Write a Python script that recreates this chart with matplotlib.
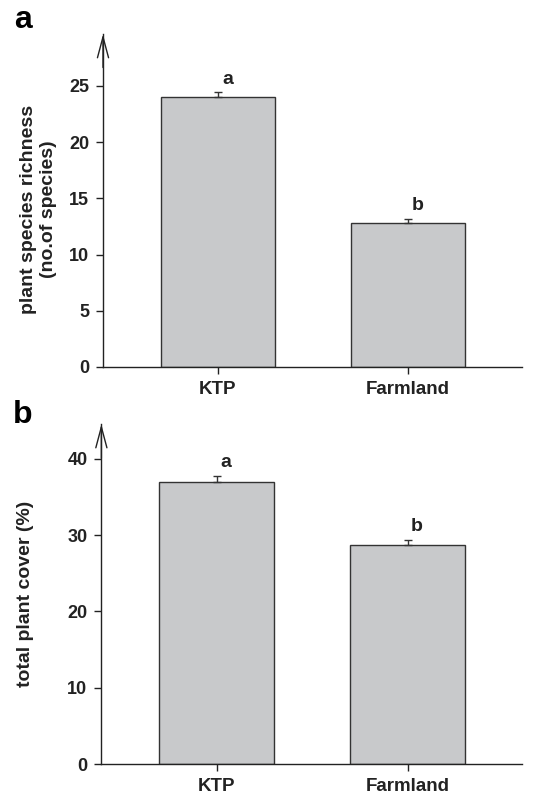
import matplotlib
matplotlib.use("Agg")
import matplotlib.pyplot as plt

plt.rcParams['font.family'] = ['Liberation Sans', 'DejaVu Sans']
plt.rcParams['font.weight'] = 'bold'

# data
sites = ["KTP", "Farmland"]
richness = [24.05, 12.8]
richness_se = [0.4, 0.4]
cover = [37.0, 28.65]
cover_se = [0.75, 0.7]
letters = ["a", "b"]

bar_color = "#c8c9cb"
edge_color = "#333333"
axis_color = "#222222"


def draw_panel(ax, values, errs, ylabel, yticks, ytop, text_gap, label_xy):
    x = [1, 2]
    ax.bar(x, values, width=0.6, color=bar_color, edgecolor=edge_color, linewidth=1.0, zorder=2)
    ax.errorbar(x, values, yerr=[[0, 0], errs], fmt="none", ecolor=edge_color,
                elinewidth=1.0, capsize=3.2, capthick=1.0, zorder=3)
    for xi, v, e, lab in zip(x, values, errs, letters):
        ax.text(xi + 0.05, v + e + text_gap, lab, ha="center", va="bottom",
                fontsize=14, fontweight="bold", color="#222222")

    ax.set_xlim(0.396, 2.6)
    ax.set_ylim(0, ytop)
    ax.set_xticks(x)
    ax.set_xticklabels(sites, fontsize=13.5, fontweight="bold", color="#222222")
    ax.set_yticks(yticks)
    ax.set_yticklabels([str(t) for t in yticks], fontsize=13, fontweight="bold", color="#222222")
    ax.tick_params(axis="both", direction="out", length=5, width=1.0, color=axis_color)
    ax.tick_params(axis="x", pad=5)
    ax.tick_params(axis="y", pad=5)

    for side in ["top", "right"]:
        ax.spines[side].set_visible(False)
    for side in ["left", "bottom"]:
        ax.spines[side].set_color(axis_color)
        ax.spines[side].set_linewidth(1.0)

    # open arrow head at the top of the y axis
    ax.annotate("", xy=(0, 1.0), xytext=(0, 0.9), xycoords="axes fraction",
                arrowprops=dict(arrowstyle="->,head_length=1.5,head_width=0.4",
                                color=axis_color, lw=1.0, shrinkA=0, shrinkB=0))
    ax.set_ylabel(ylabel, fontsize=14, fontweight="bold", color="#222222")
    ax.yaxis.set_label_coords(*label_xy)


fig = plt.figure(figsize=(5.45, 7.96), dpi=100)

ax1 = fig.add_axes([0.189, 0.539, 0.769, 0.418])
draw_panel(ax1, richness, richness_se, "plant species richness\n(no.of species)",
           [0, 5, 10, 15, 20, 25], 29.6, 0.4, (-0.11, 0.474))

ax2 = fig.add_axes([0.186, 0.040, 0.772, 0.427])
draw_panel(ax2, cover, cover_se, "total plant cover (%)",
           [0, 10, 20, 30, 40], 44.5, 0.6, (-0.16, 0.5))

fig.text(0.042, 0.975, "a", fontsize=23, fontweight="bold", ha="center", va="center")
fig.text(0.042, 0.479, "b", fontsize=23, fontweight="bold", ha="center", va="center")

fig.savefig("out.png", dpi=100)
